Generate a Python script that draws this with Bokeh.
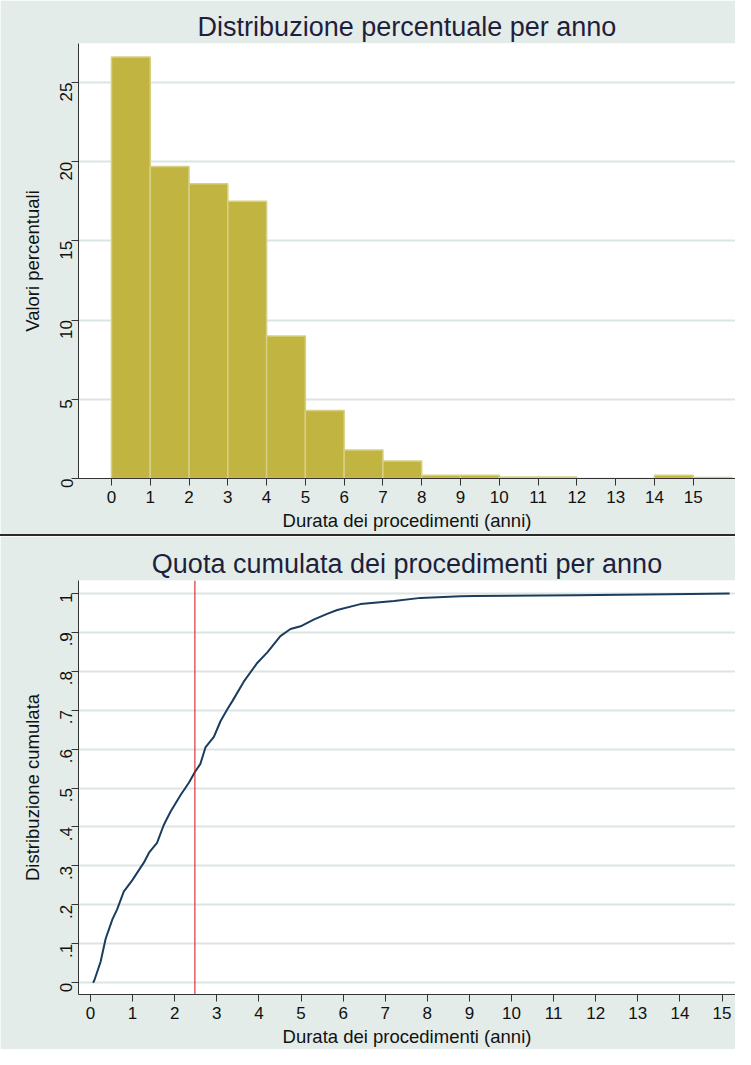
import math
from bokeh.plotting import figure
from bokeh.layouts import column
from bokeh.models import Span, FixedTicker, Range1d, Div
from bokeh.embed import file_html
from bokeh.resources import INLINE

# ---------------- data ----------------
hist_left = [0, 1, 2, 3, 4, 5, 6, 7, 8, 9, 10, 11, 12, 13, 14, 15]
hist_right = [1, 2, 3, 4, 5, 6, 7, 8, 9, 10, 11, 12, 13, 14, 15, 16]
hist_pct = [26.6, 19.7, 18.6, 17.5, 9.0, 4.3, 1.8, 1.1, 0.2, 0.2, 0.1, 0.1, 0.0, 0.0, 0.2, 0.07]
hist_xticks = list(range(16))
hist_yticks = [0, 5, 10, 15, 20, 25]

cdf_x = [0.06, 0.09, 0.24, 0.36, 0.52, 0.63, 0.79, 0.99, 1.27, 1.39, 1.58, 1.74, 1.90,
         2.14, 2.34, 2.48, 2.61, 2.73, 2.93, 3.09, 3.25, 3.37, 3.64, 3.96, 4.20, 4.51,
         4.75, 4.99, 5.30, 5.62, 5.86, 6.41, 7.21, 7.84, 8.79, 9.12, 11.5, 14.25, 15.18]
cdf_y = [0.0, 0.006, 0.054, 0.113, 0.163, 0.188, 0.234, 0.263, 0.309, 0.334, 0.359,
         0.405, 0.439, 0.482, 0.514, 0.541, 0.562, 0.604, 0.631, 0.672, 0.702, 0.723,
         0.773, 0.821, 0.848, 0.890, 0.908, 0.915, 0.932, 0.947, 0.957, 0.972, 0.980,
         0.988, 0.992, 0.993, 0.995, 0.998, 0.999]
cdf_xticks = list(range(16))
cdf_yticks = [0, 0.1, 0.2, 0.3, 0.4, 0.5, 0.6, 0.7, 0.8, 0.9, 1]
cdf_ytick_labels = ["0", ".1", ".2", ".3", ".4", ".5", ".6", ".7", ".8", ".9", "1"]
mean_line = 2.48

# ---------------- style ----------------
BG = "#e3ece8"
GRID = "#dbe5e1"
AXIS = "#333333"
TITLE_C = "#1f1f3d"
BAR = "#c2b440"
BAR_EDGE = "#d8cf86"
CURVE = "#1a3c5e"
FONT = "Liberation Sans"


def style(p):
    p.background_fill_color = "white"
    p.border_fill_color = BG
    p.outline_line_color = None
    p.title.text_font = FONT
    p.title.text_font_size = "27px"
    p.title.text_font_style = "normal"
    p.title.text_color = TITLE_C
    p.title.align = "center"
    p.title.standoff = 4
    p.xgrid.grid_line_color = None
    p.ygrid.grid_line_color = GRID
    p.ygrid.grid_line_width = 2
    for ax in (p.xaxis[0], p.yaxis[0]):
        ax.axis_line_color = AXIS
        ax.major_tick_line_color = AXIS
        ax.minor_tick_line_color = None
        ax.major_tick_out = 7
        ax.major_tick_in = 0
        ax.major_label_text_font = FONT
        ax.major_label_text_font_size = "17px"
        ax.major_label_text_color = "#111111"
        ax.axis_label_text_font = FONT
        ax.axis_label_text_font_size = "18.5px"
        ax.axis_label_text_font_style = "normal"
        ax.axis_label_text_color = "#111111"
    p.yaxis[0].major_label_orientation = math.pi / 2
    p.xaxis[0].axis_label_standoff = 4
    p.yaxis[0].axis_label_standoff = 9


# ---------------- top: histogram ----------------
p1 = figure(width=735, height=534, output_backend="svg", toolbar_location=None,
            title="Distribuzione percentuale per anno",
            x_range=Range1d(-0.85, 16.09), y_range=Range1d(0, 27.46),
            min_border_left=76, min_border_right=0, min_border_top=43, min_border_bottom=56)
p1.quad(left=hist_left, right=hist_right, bottom=0, top=hist_pct,
        fill_color=BAR, line_color=BAR_EDGE, line_width=1.5)
style(p1)
p1.xaxis[0].ticker = FixedTicker(ticks=hist_xticks)
p1.yaxis[0].ticker = FixedTicker(ticks=hist_yticks)
p1.xaxis[0].axis_label = "Durata dei procedimenti (anni)"
p1.yaxis[0].axis_label = "Valori percentuali"

divider = Div(text="", width=735, height=2, margin=0,
              styles={"background-color": "#2a2a2a", "overflow": "hidden"})

# ---------------- bottom: cumulative ----------------
p2 = figure(width=735, height=513, output_backend="svg", toolbar_location=None,
            title="Quota cumulata dei procedimenti per anno",
            x_range=Range1d(-0.285, 15.32), y_range=Range1d(-0.030, 1.0326),
            min_border_left=78, min_border_right=0, min_border_top=44, min_border_bottom=49)
p2.line(cdf_x, cdf_y, line_color=CURVE, line_width=2)
p2.add_layout(Span(location=mean_line, dimension="height", line_color="#d01010", line_width=1))
style(p2)
p2.xaxis[0].ticker = FixedTicker(ticks=cdf_xticks)
p2.yaxis[0].ticker = FixedTicker(ticks=cdf_yticks)
p2.yaxis[0].major_label_overrides = dict(zip(cdf_yticks, cdf_ytick_labels))
p2.xaxis[0].axis_label = "Durata dei procedimenti (anni)"
p2.yaxis[0].axis_label = "Distribuzione cumulata"

layout = column(p1, divider, p2, spacing=0)
open("out.html", "w").write(file_html(layout, INLINE))
